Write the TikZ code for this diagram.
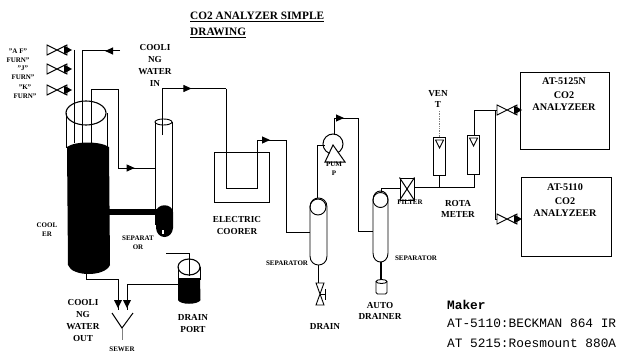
\documentclass[tikz,border=0pt]{standalone}
\usepackage{fontspec}
\setmainfont{Liberation Serif}
\setmonofont{Liberation Mono}
\usetikzlibrary{arrows.meta,shapes.misc,shapes.geometric,decorations.markings}
\tikzset{
  pipe/.style={draw=black,line width=1pt},
  flow/.style={pipe,postaction={decorate},decoration={markings,mark=at position #1 with {\arrow{Triangle[length=8pt,width=7pt]}}}},
  flow/.default=0.5,
  lab/.style={font=\fontsize{9.2}{11.7}\selectfont\bfseries,inner sep=0pt,align=center},
  tiny lab/.style={font=\fontsize{7}{9}\selectfont\bfseries,inner sep=0pt,align=center},
  boxlab/.style={font=\fontsize{10.2}{11}\selectfont\bfseries,inner sep=0pt},
  titlelab/.style={font=\fontsize{11.3}{12}\selectfont\bfseries,inner sep=0pt,anchor=west},
  anbox/.style={draw=black,line width=1.1pt,inner sep=0pt,anchor=north west},
  vessel/.style={draw=black,line width=0.9pt},
  makerlab/.style={font=\ttfamily\fontsize{12.8}{13}\selectfont,inner sep=0pt,anchor=west},
}
\newcommand{\hvalve}[2]{% name, centre
  \coordinate (#1) at (#2);
  \draw[line width=0.9pt] ([shift={(-11,-5)}]#1) -- ([shift={(9,5)}]#1) -- ([shift={(9,-5)}]#1) -- ([shift={(-11,5)}]#1) -- cycle;
  \fill[black] ([shift={(6,-4.5)}]#1) -- ([shift={(14,0)}]#1) -- ([shift={(6,4.5)}]#1) -- cycle;
}
\begin{document}
\begin{tikzpicture}[x=1pt,y=-1pt]
\useasboundingbox (0,0) rectangle (620,353);
% title
\node[titlelab] (t1) at (190,17) {\underline{CO2 ANALYZER SIMPLE}};
\node[titlelab] (t2) at (190,33) {\underline{DRAWING}};
% furnace labels
\node[tiny lab] (la) at (18,56) {"A F"\\FURN"};
\node[tiny lab] (lj) at (23,72.5) {"J"\\FURN"};
\node[tiny lab] (lk) at (25,92) {"K"\\FURN"};
% cooler
\fill[black] (67,147) .. controls (75,141) and (100,141) .. (109,147) -- (110,265) .. controls (105,277) and (72,277) .. (68,265) -- cycle;
\draw[vessel] (66,113) -- (66,148) (107,113) -- (107,148);
\draw[vessel,line width=1.1pt] (86,113) ellipse [x radius=20,y radius=12];
\coordinate (cool) at (86,274);
% furnace valves and lines
\hvalve{v1}{58,50}
\hvalve{v2}{58,69}
\hvalve{v3}{58,90}
\draw[pipe] (74,50) -- (74,143);
\coordinate (cwin) at (120,51);
\coordinate (c2) at (82,143);
\draw[flow=0.115] (cwin) -- (82,51) -- (c2);
\coordinate (c3) at (91,143);
\coordinate (s1a) at (155,168);
\draw[pipe] (c3) -- (91,89) -- (118,89) -- (118,168);
\draw[flow=0.45] (118,168) -- (s1a);
% separator 1
\draw[vessel] (155,122) -- (155,225) (172,122) -- (172,225);
\draw[vessel] (163.5,122) ellipse [x radius=8.5,y radius=3];
\fill[black] (156,212) .. controls (157,203) and (172,203) .. (173,212) -- (173,228) .. controls (172,240) and (157,240) .. (156,228) -- cycle;
\fill[white] (162,230) rectangle (164,234);
\fill[black] (108,209) rectangle (157,215);
% line to electric cooler
\coordinate (s1t) at (162,135);
\draw[pipe] (s1t) -- (162,88.5);
\draw[flow=0.46] (162,88.5) -- (226,88.5);
\draw[pipe] (226,88.5) -- (226,188) -- (257,188) -- (257,140);
\draw[flow=0.45] (257,140) -- (286,140);
\coordinate (s2a) at (310,232);
\draw[pipe] (286,140) -- (286,232) -- (s2a);
% electric cooler
\node[anbox,minimum width=55pt,minimum height=50pt] (ec) at (214,152) {};
\node[lab] (ecl) at (237,225.5) {ELECTRIC\\COORER};
% separator 2
\draw[vessel] (310,207) .. controls (310,195) and (327,195) .. (327,207) -- (327,256) .. controls (327,268) and (310,268) .. (310,256) -- cycle;
\node[draw=black,circle,line width=0.9pt,minimum size=16pt,inner sep=0pt] (s2c) at (318,207) {};
\node[tiny lab] (s2l) at (287,263) {SEPARATOR};
% pump
\node[draw=black,circle,line width=1pt,minimum size=20pt,inner sep=0pt] (pc) at (333,144) {};
\fill[white] (333,145) -- (344,162) -- (326,162) -- cycle;
\draw[line width=1pt] (333,145) -- (345,162) -- (325,162) -- cycle;
\node[tiny lab] (pl) at (334,169) {PUM\\P};
\draw[pipe] (317,198) -- (317,145) -- (325,145);
\draw[flow=0.65] (334,134) -- (334,118) -- (358,118);
\coordinate (s3a) at (373,231);
\draw[pipe] (358,118) -- (358,231) -- (s3a);
% drain
\coordinate (dv) at (320,294);
\draw[pipe] (318,265) -- (318,283);
\draw[line width=0.9pt] (316,283) -- (324,283) -- (316,305) -- (324,305) -- cycle;
\draw[line width=0.9pt] (320,294) -- (325,294) (325.5,289) -- (325.5,300);
\node[lab] (dl) at (325,326) {DRAIN};
% separator 3
\draw[vessel] (373,200) .. controls (373,188) and (388,188) .. (388,200) -- (388,253) .. controls (388,265) and (373,265) .. (373,253) -- cycle;
\node[draw=black,circle,line width=0.9pt,minimum size=15pt,inner sep=0pt] (s3c) at (380.5,200) {};
\node[tiny lab] (s3l) at (416,258) {SEPARATOR};
\node[lab] (adl) at (380,311) {AUTO\\DRAINER};
\draw[pipe,line width=1.3pt] (381,262) -- (381,280);
\draw[vessel,rounded corners=1.5pt] (376,282) -- (376,294) -- (387,294) -- (387,282);
\draw[vessel] (381.5,281.5) ellipse [x radius=5.5,y radius=2];
% filter
\node[draw=black,line width=1pt,minimum width=14pt,minimum height=22pt,inner sep=0pt,cross out] (fx) at (407,189) {};
\node[draw=black,line width=1pt,minimum width=14pt,minimum height=22pt,inner sep=0pt] (f) at (407,189) {};
\node[tiny lab] (fl) at (410,202) {FILTER};
\draw[pipe] (381,192) -- (381,188) -- (f.west |- 0,188);
% rotameters
\node[anbox,line width=1pt,minimum width=12pt,minimum height=38pt] (r1) at (433,137) {};
\node[anbox,line width=1pt,minimum width=12pt,minimum height=39pt] (r2) at (467,135) {};
\draw[line width=0.9pt] (435.5,140) -- (443.5,140) -- (439.5,148) -- cycle;
\draw[line width=0.9pt] (469.5,138) -- (477.5,138) -- (473.5,146) -- cycle;
\draw[pipe] (f.east |- 0,187) -- (474,187) -- (474,174);
\draw[pipe] (439,187) -- (439,175);
\draw[gray,line width=0.7pt,densely dotted] (439,137) -- (439,110);
\node[lab] (vl) at (438,99) {VEN\\T};
\node[lab] (rl) at (458,209) {ROTA\\METER};
% analyzer valves and boxes
\hvalve{a1}{508,110}
\hvalve{a2}{508,219}
\draw[pipe] (474,135) -- (474,110) -- (497,110);
\draw[pipe] (495,110) -- (495,219) -- (497,219);
\node[anbox,minimum width=89pt,minimum height=77pt] (b1) at (520,72) {};
\node[anbox,minimum width=90pt,minimum height=79pt] (b2) at (521,177) {};
\node[boxlab] (b1a) at (564,81) {AT-5125N};
\node[boxlab] (b1b) at (564,95) {CO2};
\node[boxlab] (b1c) at (564,107) {ANALYZEER};
\node[boxlab] (b2a) at (565,187) {AT-5110};
\node[boxlab] (b2b) at (565,201) {CO2};
\node[boxlab] (b2c) at (565,213) {ANALYZEER};
% cooling water labels
\node[lab] (cwi) at (155,65.5) {COOLI\\NG\\WATER\\IN};
\node[lab] (cwo) at (83,320.5) {COOLI\\NG\\WATER\\OUT};
\node[tiny lab] (cl) at (47,229.5) {COOL\\ER};
\node[tiny lab] (sl) at (138,242.5) {SEPARAT\\OR};
% drain port
\draw[vessel] (178,267) -- (178,280) (200,267) -- (200,280);
\fill[black] (178,278) -- (200,278) -- (200.5,300) .. controls (198,305) and (180,305) .. (178,300) -- cycle;
\draw[vessel,line width=1.1pt] (189,267) ellipse [x radius=11,y radius=8];
\coordinate (dpt) at (189,276);
\draw[pipe,line width=0.7pt] (166,253) -- (189,253) -- (dpt);
\node[lab] (dpl) at (193,323.5) {DRAIN\\PORT};
% sewer
\coordinate (funnel) at (122,328);
\draw[pipe] (112,313) -- (funnel) -- (133,313);
\draw[gray,line width=0.8pt] (funnel) -- (122,340);
\node[tiny lab] (swl) at (122,349) {SEWER};
\draw[pipe] (cool) -- (86,279) -- (118,279) -- (118,310);
\fill[black] (114,300) -- (122,300) -- (118,308) -- cycle;
\draw[pipe] (178,284) -- (127,284) -- (127,310);
\fill[black] (123,300) -- (131,300) -- (127,308) -- cycle;
% maker
\node[makerlab,font=\ttfamily\bfseries\fontsize{12.8}{13}\selectfont] (m1) at (447,305) {Maker};
\node[makerlab] (m2) at (447,323) {AT-5110:BECKMAN 864 IR};
\node[makerlab] (m3) at (447,343) {AT 5215:Roesmount 880A};
\end{tikzpicture}
\end{document}
